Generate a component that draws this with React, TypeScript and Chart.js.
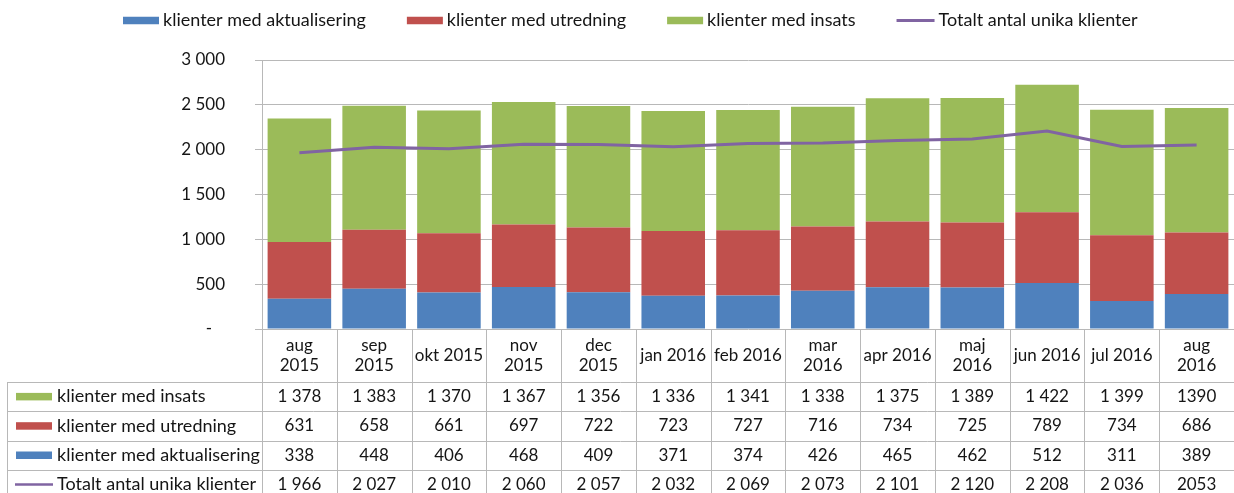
import React, { useEffect, useRef } from "react";
import { Chart, registerables } from "chart.js";

Chart.register(...registerables);

const categories: (string | string[])[] = [
  ["aug", "2015"], ["sep", "2015"], "okt 2015", ["nov", "2015"], ["dec", "2015"],
  "jan 2016", "feb 2016", ["mar", "2016"], "apr 2016", ["maj", "2016"],
  "jun 2016", "jul 2016", ["aug", "2016"],
];
const aktualisering = [338, 448, 406, 468, 409, 371, 374, 426, 465, 462, 512, 311, 389];
const utredning = [631, 658, 661, 697, 722, 723, 727, 716, 734, 725, 789, 734, 686];
const insats = [1378, 1383, 1370, 1367, 1356, 1336, 1341, 1338, 1375, 1389, 1422, 1399, 1390];
const totalt = [1966, 2027, 2010, 2060, 2057, 2032, 2069, 2073, 2101, 2120, 2208, 2036, 2053];
const groupThousands = [true, true, true, true, true, true, true, true, true, true, true, true, false];

const yMax = 3000;
const yStep = 500;

const BLUE = "#4F81BD";
const RED = "#C0504D";
const GREEN = "#9BBB59";
const PURPLE = "#8064A2";
const GRID = "#b8b8b8";
const TEXT = "#151515";
const FONT_LABEL = "18px Lato";
const FONT_HEADER = "17px Lato";
const FONT_NUM = "17px Lato";

const fmt = (n: number, group = true) =>
  group ? String(n).replace(/\B(?=(\d{3})+(?!\d))/g, "\u00a0") : String(n);

const tablePlugin = {
  id: "tableAndLegend",
  afterDraw(chart: any) {
    const ctx = chart.ctx as CanvasRenderingContext2D;
    const xs = chart.scales.x;
    const area = chart.chartArea;
    const n = categories.length;
    const centers = categories.map((_, i) => xs.getPixelForValue(i));
    const half = (centers[1] - centers[0]) / 2;
    const bounds = centers.map((c) => c - half);
    bounds.push(centers[n - 1] + half);

    const headerTop = area.bottom;
    const headerBottom = 382;
    const rowH = 29.3;
    const rows = [
      { label: "klienter med insats", data: insats, color: GREEN, kind: "box" },
      { label: "klienter med utredning", data: utredning, color: RED, kind: "box" },
      { label: "klienter med aktualisering", data: aktualisering, color: BLUE, kind: "box" },
      { label: "Totalt antal unika klienter", data: totalt, color: PURPLE, kind: "line" },
    ];
    const tableLeft = 7;
    const tableBottom = headerBottom + rowH * rows.length;

    ctx.save();
    ctx.strokeStyle = GRID;
    ctx.lineWidth = 1;
    bounds.forEach((b) => {
      const x = Math.round(b) + 0.5;
      ctx.beginPath();
      ctx.moveTo(x, headerTop);
      ctx.lineTo(x, tableBottom);
      ctx.stroke();
    });
    ctx.beginPath();
    ctx.moveTo(tableLeft + 0.5, headerBottom);
    ctx.lineTo(tableLeft + 0.5, tableBottom);
    ctx.stroke();
    for (let r = 0; r <= rows.length; r++) {
      const y = Math.round(headerBottom + r * rowH) + 0.5;
      ctx.beginPath();
      ctx.moveTo(tableLeft, y);
      ctx.lineTo(bounds[n], y);
      ctx.stroke();
    }

    ctx.fillStyle = TEXT;
    ctx.textBaseline = "middle";
    ctx.textAlign = "center";
    ctx.font = FONT_HEADER;
    const hMid = (headerTop + headerBottom) / 2;
    categories.forEach((c, i) => {
      if (Array.isArray(c)) {
        ctx.fillText(c[0], centers[i], hMid - 10);
        ctx.fillText(c[1], centers[i], hMid + 10.5);
      } else {
        ctx.fillText(c, centers[i], hMid);
      }
    });
    rows.forEach((row, r) => {
      const yMid = headerBottom + r * rowH + rowH / 2;
      if (row.kind === "box") {
        ctx.fillStyle = row.color;
        ctx.fillRect(16, yMid - 3.75, 36, 7.5);
      } else {
        ctx.strokeStyle = row.color;
        ctx.lineWidth = 2.5;
        ctx.beginPath();
        ctx.moveTo(15, yMid);
        ctx.lineTo(53, yMid);
        ctx.stroke();
      }
      ctx.fillStyle = TEXT;
      ctx.textAlign = "left";
      ctx.font = FONT_LABEL;
      ctx.fillText(row.label, 57, yMid);
      ctx.textAlign = "center";
      ctx.font = FONT_NUM;
      row.data.forEach((v, i) => {
        ctx.fillText(fmt(v, groupThousands[i]), centers[i], yMid);
      });
    });

    const legendItems = [
      { label: "klienter med aktualisering", color: BLUE, kind: "box" },
      { label: "klienter med utredning", color: RED, kind: "box" },
      { label: "klienter med insats", color: GREEN, kind: "box" },
      { label: "Totalt antal unika klienter", color: PURPLE, kind: "line" },
    ];
    ctx.font = FONT_LABEL;
    let lx = 123;
    const ly = 20.5;
    legendItems.forEach((it) => {
      if (it.kind === "box") {
        ctx.fillStyle = it.color;
        ctx.fillRect(lx, ly - 3.75, 36, 7.5);
      } else {
        ctx.strokeStyle = it.color;
        ctx.lineWidth = 3;
        ctx.beginPath();
        ctx.moveTo(lx, ly);
        ctx.lineTo(lx + 38, ly);
        ctx.stroke();
      }
      ctx.fillStyle = TEXT;
      ctx.textAlign = "left";
      const tx = lx + (it.kind === "box" ? 40 : 42);
      ctx.fillText(it.label, tx, ly);
      lx = tx + ctx.measureText(it.label).width + 41;
    });
    ctx.restore();
  },
};

export default function App() {
  const ref = useRef<HTMLCanvasElement>(null);
  useEffect(() => {
    if (!ref.current) return;
    const chart = new Chart(ref.current, {
      type: "bar",
      data: {
        labels: categories,
        datasets: [
          { type: "line", label: "Totalt antal unika klienter", data: totalt, borderColor: PURPLE, backgroundColor: PURPLE, borderWidth: 3, pointRadius: 0, tension: 0, stack: "total", order: 0 } as any,
          { label: "klienter med aktualisering", data: aktualisering, backgroundColor: BLUE, stack: "s", order: 1 },
          { label: "klienter med utredning", data: utredning, backgroundColor: RED, stack: "s", order: 1 },
          { label: "klienter med insats", data: insats, backgroundColor: GREEN, stack: "s", order: 1 },
        ],
      },
      options: {
        animation: false,
        responsive: true,
        maintainAspectRatio: false,
        layout: { padding: { top: 60, bottom: 164, left: 0, right: 0 } },
        datasets: { bar: { barPercentage: 0.85, categoryPercentage: 1 } },
        plugins: { legend: { display: false }, tooltip: { enabled: false } },
        scales: {
          x: { display: false, stacked: true },
          y: {
            stacked: true,
            min: 0,
            max: yMax,
            afterFit: (s: any) => { s.width = 262; },
            border: { display: true, color: GRID },
            grid: { color: GRID, tickLength: 7, lineWidth: 1 },
            ticks: {
              stepSize: yStep,
              padding: 30,
              color: TEXT,
              font: { family: "Lato", size: 17 },
              callback: (v: any) => (Number(v) === 0 ? "-\u00a0\u00a0\u00a0" : fmt(Number(v))),
            },
          },
        },
      },
      plugins: [tablePlugin],
    });
    return () => chart.destroy();
  }, []);
  return (
    <div style={{ position: "absolute", left: 0, top: 0, width: 1234, height: 493, background: "#fff" }}>
      <canvas ref={ref} />
    </div>
  );
}
